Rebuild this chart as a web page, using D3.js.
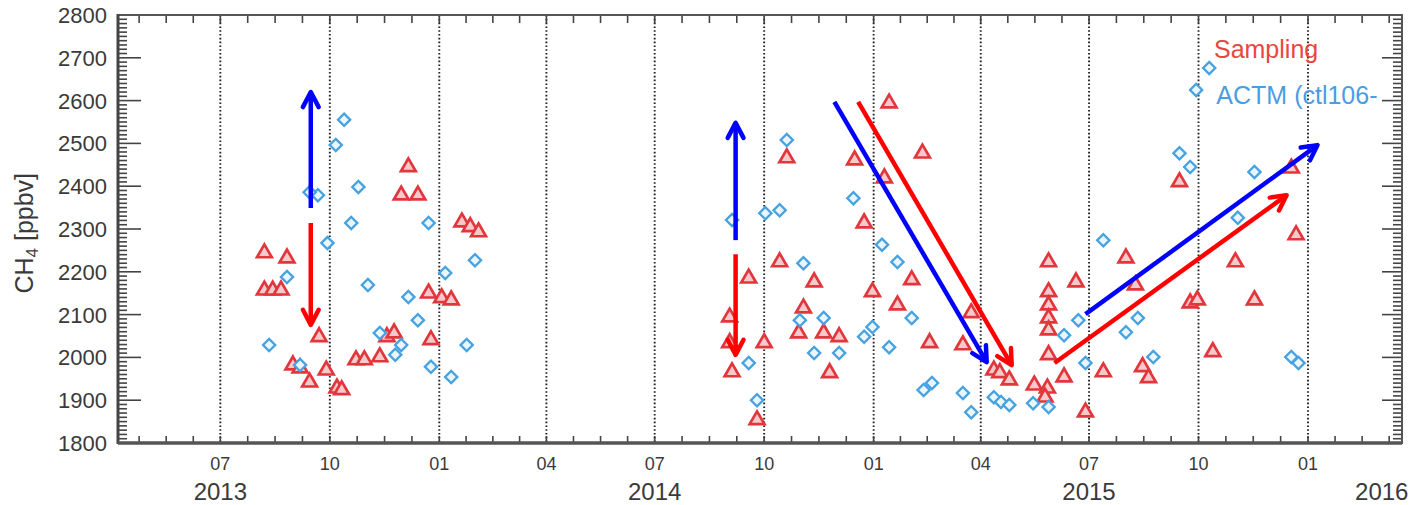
<!DOCTYPE html>
<meta charset="utf-8">
<head>
    <script type="text/javascript" src="https://cdn.jsdelivr.net/npm/d3@7"></script>
    <style>
        body {
            margin: 0;
            background: #ffffff;
            font-family: "Liberation Sans", Arial, sans-serif;
        }
        .ylab, .mlab, .yrlab {
            fill: #3a3a3a;
        }
        .grid {
            stroke: #222222;
            stroke-width: 1.9;
            stroke-dasharray: 1.6,2.2;
        }
        .tick {
            stroke: #444444;
            stroke-width: 1.6;
        }
    </style>
    <title>CH4 Sampling vs ACTM</title>
</head>

<body>
    <div id="chart"></div>

    <script>
        var w = 1412;
        var h = 505;
        var margin = {left: 118, right: 10, top: 15, bottom: 62};

        // y axis ticks
        var yTicks = [1800, 1900, 2000, 2100, 2200, 2300, 2400, 2500, 2600, 2700, 2800];
        var yearLabels = ["2013", "2014", "2015", "2016"];
        var yearLabelDates = ["2013-07-01", "2014-07-01", "2015-07-01", "2016-03-03"];

        // red triangles: Sampling
        var samplingPoints = [
            ["2013-08-07", 2244], ["2013-08-26", 2232], ["2013-08-07", 2157], ["2013-08-14", 2157],
            ["2013-08-21", 2157], ["2013-09-22", 2048], ["2013-08-31", 1982], ["2013-09-06", 1975],
            ["2013-09-14", 1942], ["2013-09-28", 1970], ["2013-10-07", 1928], ["2013-10-11", 1924],
            ["2013-10-23", 1994], ["2013-10-30", 1994], ["2013-11-12", 2001], ["2013-11-18", 2048],
            ["2013-11-24", 2057], ["2013-12-06", 2445], ["2013-11-30", 2379], ["2013-12-14", 2379],
            ["2013-12-23", 2150], ["2014-01-03", 2139], ["2014-01-11", 2134], ["2013-12-25", 2041],
            ["2014-01-20", 2316], ["2014-01-27", 2305], ["2014-02-03", 2293],
            ["2014-09-02", 2034], ["2014-09-02", 2094], ["2014-09-04", 1966], ["2014-09-18", 2185],
            ["2014-10-01", 2034], ["2014-09-25", 1854], ["2014-10-14", 2223], ["2014-10-20", 2466],
            ["2014-11-12", 2176], ["2014-11-03", 2115], ["2014-10-30", 2057], ["2014-11-20", 2057],
            ["2014-12-03", 2048], ["2014-11-25", 1964], ["2014-12-16", 2461], ["2014-12-24", 2314],
            ["2014-12-31", 2153], ["2015-01-14", 2594], ["2015-01-10", 2419], ["2015-02-11", 2477],
            ["2015-02-02", 2181], ["2015-01-21", 2122], ["2015-02-17", 2034], ["2015-03-17", 2029],
            ["2015-03-24", 2104], ["2015-04-12", 1970], ["2015-04-17", 1964], ["2015-04-25", 1947],
            ["2015-05-28", 2223], ["2015-06-20", 2176], ["2015-05-28", 2153], ["2015-05-28", 2122],
            ["2015-05-28", 2092], ["2015-05-28", 2064], ["2015-05-28", 2006], ["2015-06-10", 1954],
            ["2015-05-16", 1935], ["2015-05-27", 1928], ["2015-05-25", 1907], ["2015-06-28", 1872],
            ["2015-07-13", 1966], ["2015-08-01", 2232], ["2015-08-09", 2169], ["2015-08-15", 1978],
            ["2015-08-20", 1952], ["2015-09-15", 2410], ["2015-09-24", 2127], ["2015-09-30", 2134],
            ["2015-10-13", 2013], ["2015-11-01", 2223], ["2015-11-17", 2134], ["2015-12-22", 2286],
            ["2015-12-18", 2442]
        ];

        // blue diamonds: ACTM
        var actmPoints = [
            ["2013-08-11", 2029], ["2013-08-26", 2188], ["2013-10-13", 2555], ["2013-10-06", 2496],
            ["2013-09-21", 2379], ["2013-09-14", 2386], ["2013-10-25", 2398], ["2013-10-19", 2314],
            ["2013-09-29", 2267], ["2013-11-02", 2169], ["2013-12-06", 2141], ["2013-12-14", 2087],
            ["2013-11-30", 2029], ["2013-11-25", 2006], ["2013-11-12", 2057], ["2013-12-23", 2314],
            ["2014-01-06", 2197], ["2014-01-31", 2227], ["2014-01-24", 2029], ["2013-12-25", 1978],
            ["2014-01-11", 1954], ["2013-09-06", 1982],
            ["2014-09-04", 2321], ["2014-09-18", 1987], ["2014-09-25", 1900], ["2014-10-02", 2337],
            ["2014-10-14", 2344], ["2014-10-20", 2508], ["2014-11-03", 2220], ["2014-10-31", 2087],
            ["2014-11-20", 2092], ["2014-11-12", 2010], ["2014-12-03", 2010], ["2014-12-15", 2372],
            ["2015-01-08", 2263], ["2015-01-21", 2223], ["2015-02-02", 2092], ["2014-12-31", 2071],
            ["2014-12-24", 2048], ["2015-01-14", 2024], ["2015-02-12", 1924], ["2015-02-19", 1940],
            ["2015-03-17", 1917], ["2015-03-24", 1872], ["2015-04-12", 1907], ["2015-04-18", 1896],
            ["2015-04-25", 1889], ["2015-05-15", 1893], ["2015-05-28", 1884], ["2015-06-10", 2052],
            ["2015-06-22", 2087], ["2015-06-28", 1987], ["2015-07-13", 2274], ["2015-08-01", 2059],
            ["2015-08-11", 2092], ["2015-08-24", 2001], ["2015-09-15", 2477], ["2015-09-24", 2445],
            ["2015-09-29", 2625], ["2015-10-10", 2676], ["2015-11-03", 2326], ["2015-11-17", 2433],
            ["2015-12-18", 2001], ["2015-12-24", 1987]
        ];

        // annotation arrows: [start date, start value, end date, end value, colour]
        var arrows = [
            ["2013-09-15", 2349, "2013-09-15", 2620, "#0000ff"],
            ["2013-09-15", 2314, "2013-09-15", 2076, "#ff0000"],
            ["2014-09-07", 2274, "2014-09-07", 2548, "#0000ff"],
            ["2014-09-07", 2241, "2014-09-07", 2006, "#ff0000"],
            ["2014-11-29", 2597, "2015-04-06", 1989, "#0000ff"],
            ["2014-12-19", 2597, "2015-04-27", 1982, "#ff0000"],
            ["2015-06-28", 2101, "2016-01-09", 2496, "#0000ff"],
            ["2015-06-02", 1987, "2015-12-14", 2379, "#ff0000"]
        ];

        var parse = d3.utcParse("%Y-%m-%d");

        var svg = d3.select("#chart")
                    .append("svg")
                    .attr("width", w)
                    .attr("height", h);

        var x = d3.scaleUtc()
            .domain([parse("2013-04-06"), parse("2016-03-20")])
            .range([margin.left, w - margin.right]);
        var y = d3.scaleLinear()
            .domain([1800, 2800])
            .range([h - margin.bottom, margin.top]);

        var x0 = x.range()[0], x1 = x.range()[1];
        var y0 = y.range()[0], y1 = y.range()[1];

        // quarter lines and minor ticks
        var quarters = d3.utcMonth.every(3).range(parse("2013-01-01"), parse("2016-07-01"));
        var visQuarters = quarters.filter(d => d >= x.domain()[0] && d <= x.domain()[1]);
        var minorX = [];
        for (var i = 0; i < quarters.length - 1; i++) {
            for (var k = 0; k < 4; k++) {
                var t = new Date(+quarters[i] + k * (quarters[i + 1] - quarters[i]) / 4);
                if (t >= x.domain()[0] && t <= x.domain()[1]) minorX.push(t);
            }
        }

        svg.append("g").selectAll("line")
            .data(visQuarters)
            .enter().append("line")
            .attr("class", "grid")
            .attr("x1", d => x(d)).attr("x2", d => x(d))
            .attr("y1", y1).attr("y2", y0);

        // x ticks bottom & top
        var gx = svg.append("g");
        gx.selectAll(".bt").data(minorX).enter().append("line")
            .attr("class", "tick")
            .attr("x1", d => x(d)).attr("x2", d => x(d))
            .attr("y1", y0).attr("y2", y0 - 7);
        gx.selectAll(".tt").data(minorX).enter().append("line")
            .attr("class", "tick")
            .attr("x1", d => x(d)).attr("x2", d => x(d))
            .attr("y1", y1).attr("y2", y1 + 8);

        // y ticks left & right
        var minorY = d3.range(1800, 2801, 10);
        var gy = svg.append("g");
        gy.selectAll(".lt").data(minorY).enter().append("line")
            .attr("class", "tick")
            .attr("x1", x0).attr("x2", d => x0 + (d % 100 === 0 ? 23 : 9))
            .attr("y1", d => y(d)).attr("y2", d => y(d));
        gy.selectAll(".rt").data(minorY).enter().append("line")
            .attr("class", "tick")
            .attr("x1", x1).attr("x2", d => x1 - (d % 100 === 0 ? 20 : 9))
            .attr("y1", d => y(d)).attr("y2", d => y(d));

        // frame
        svg.append("rect")
            .attr("x", x0).attr("y", y1)
            .attr("width", x1 - x0).attr("height", y0 - y1)
            .style("fill", "none").style("stroke", "#555").style("stroke-width", 2);
        svg.append("line").attr("x1", x0).attr("x2", x0).attr("y1", y1 - 1).attr("y2", y0 + 1)
            .style("stroke", "#444").style("stroke-width", 3);
        svg.append("line").attr("x1", x0).attr("x2", x1).attr("y1", y0).attr("y2", y0)
            .style("stroke", "#555").style("stroke-width", 3.5);

        // y labels
        svg.append("g").selectAll("text")
            .data(yTicks).enter().append("text")
            .attr("class", "ylab")
            .attr("x", x0 - 11)
            .attr("y", d => y(d))
            .attr("dy", "0.36em")
            .attr("text-anchor", "end")
            .style("font-size", "22px")
            .text(d => d);

        // month labels
        svg.append("g").selectAll("text")
            .data(visQuarters).enter().append("text")
            .attr("class", "mlab")
            .attr("x", d => x(d))
            .attr("y", y0 + 27)
            .attr("text-anchor", "middle")
            .style("font-size", "18px")
            .text(d => d3.utcFormat("%m")(d));

        // year labels
        svg.append("g").selectAll("text")
            .data(yearLabels).enter().append("text")
            .attr("class", "yrlab")
            .attr("x", (d, i) => x(parse(yearLabelDates[i])))
            .attr("y", y0 + 57)
            .attr("text-anchor", "middle")
            .style("font-size", "24px")
            .text(d => d);

        // y title
        var yt = svg.append("text")
            .attr("transform", "translate(33," + y(2290) + ") rotate(-90)")
            .attr("text-anchor", "middle")
            .style("font-size", "25px")
            .style("fill", "#3a3a3a");
        yt.append("tspan").text("CH");
        yt.append("tspan").attr("dy", 5).style("font-size", "17px").text("4");
        yt.append("tspan").attr("dy", -5).text(" [ppbv]");

        // points
        svg.append("g").selectAll("path")
            .data(samplingPoints).enter().append("path")
            .attr("d", d3.symbol().type(d3.symbolTriangle).size(95))
            .attr("transform", d => "translate(" + x(parse(d[0])) + "," + y(d[1]) + ")")
            .style("fill", "#f8c9cb")
            .style("stroke", "#e2363d")
            .style("stroke-width", 2.7);

        svg.append("g").selectAll("path")
            .data(actmPoints).enter().append("path")
            .attr("d", d3.symbol().type(d3.symbolSquare).size(75))
            .attr("transform", d => "translate(" + x(parse(d[0])) + "," + y(d[1]) + ") rotate(45)")
            .style("fill", "#eaf5fc")
            .style("stroke", "#46a2e0")
            .style("stroke-width", 2.3);

        // legend
        svg.append("text")
            .attr("x", x(parse("2015-10-14")))
            .attr("y", y(2699))
            .style("font-size", "25px")
            .style("fill", "#e8473f")
            .text("Sampling");
        svg.append("text")
            .attr("x", x(parse("2015-10-16")))
            .attr("y", y(2592))
            .style("font-size", "25px")
            .style("fill", "#4a9de0")
            .text("ACTM (ctl106-");

        // arrows
        var ga = svg.append("g");
        arrows.forEach(a => {
            var sx = x(parse(a[0])), sy = y(a[1]);
            var ex = x(parse(a[2])), ey = y(a[3]);
            var ang = Math.atan2(ey - sy, ex - sx);
            var L = 17, spread = Math.PI / 6.5;
            var h1 = [ex - L * Math.cos(ang - spread), ey - L * Math.sin(ang - spread)];
            var h2 = [ex - L * Math.cos(ang + spread), ey - L * Math.sin(ang + spread)];
            ga.append("line")
                .attr("x1", sx).attr("y1", sy).attr("x2", ex).attr("y2", ey)
                .style("stroke", a[4]).style("stroke-width", 4.5);
            ga.append("path")
                .attr("d", "M" + h1 + "L" + ex + "," + ey + "L" + h2)
                .style("fill", "none")
                .style("stroke", a[4])
                .style("stroke-width", 4.5)
                .style("stroke-linecap", "round")
                .style("stroke-linejoin", "round");
        });
    </script>
</body>
</html>
